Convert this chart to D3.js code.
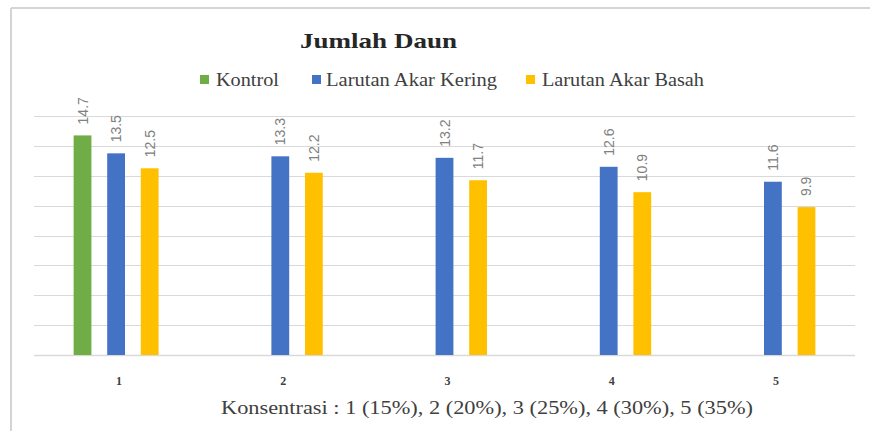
<!DOCTYPE html>
<html>
<head>
<meta charset="utf-8">
<script src="https://cdn.jsdelivr.net/npm/d3@7"></script>
<style>
  body { margin: 0; background: #fff; }
  svg { display: block; }
</style>
</head>
<body>
<div id="chart"></div>
<script>
const categories = ["1", "2", "3", "4", "5"];
const seriesNames = ["Kontrol", "Larutan Akar Kering", "Larutan Akar Basah"];
const kontrol = [14.7, null, null, null, null];
const akarKering = [13.5, 13.3, 13.2, 12.6, 11.6];
const akarBasah = [12.5, 12.2, 11.7, 10.9, 9.9];
const yTicks = [0, 2, 4, 6, 8, 10, 12, 14, 16];

const colors = ["#70ad47", "#4472c4", "#ffc000"];
const seriesValues = [kontrol, akarKering, akarBasah];

const serif = "'Liberation Serif', 'Times New Roman', serif";

const width = 870, height = 431;
const margin = { left: 34, right: 15, top: 116, bottom: 76 };

const svg = d3.select("#chart")
  .append("svg")
  .attr("width", width)
  .attr("height", height);

// chart frame (only top and left edges visible)
svg.append("line")
  .attr("x1", 11).attr("x2", width).attr("y1", 8).attr("y2", 8)
  .attr("stroke", "#d4d4d4").attr("stroke-width", 2);
svg.append("line")
  .attr("x1", 11).attr("x2", 11).attr("y1", 8).attr("y2", height)
  .attr("stroke", "#d4d4d4").attr("stroke-width", 2);

const x0 = d3.scaleBand()
  .domain(categories)
  .range([margin.left, width - margin.right]);

const x1 = d3.scaleBand()
  .domain(seriesNames)
  .range([0, x0.bandwidth()])
  .paddingInner(0.47)
  .paddingOuter(1.18);

const y = d3.scaleLinear()
  .domain([0, 16])
  .range([height - margin.bottom, margin.top]);

// gridlines
svg.append("g")
  .selectAll("line")
  .data(yTicks)
  .enter()
  .append("line")
  .attr("x1", margin.left)
  .attr("x2", width - margin.right)
  .attr("y1", d => Math.round(y(d)) + 0.5)
  .attr("y2", d => Math.round(y(d)) + 0.5)
  .attr("stroke", "#d9d9d9")
  .attr("stroke-width", d => d === 0 ? 1.5 : 1);

// bars
const groups = svg.append("g")
  .selectAll("g")
  .data(categories)
  .enter()
  .append("g")
  .attr("transform", d => `translate(${x0(d)},0)`);

const barData = (cat, ci) => seriesNames.map((s, si) => ({
  series: s, si: si, value: seriesValues[si][ci]
})).filter(d => d.value != null);

groups.each(function(cat, ci) {
  const g = d3.select(this);
  const items = barData(cat, ci);

  g.selectAll("rect")
    .data(items)
    .enter()
    .append("rect")
    .attr("x", d => x1(d.series))
    .attr("y", d => y(d.value))
    .attr("width", x1.bandwidth())
    .attr("height", d => y(0) - y(d.value))
    .attr("fill", d => colors[d.si]);

  // value labels, rotated
  g.selectAll("text")
    .data(items)
    .enter()
    .append("text")
    .attr("transform", d =>
      `translate(${x1(d.series) + x1.bandwidth() / 2 + 5},${y(d.value) - 11}) rotate(-90)`)
    .attr("font-family", "'Liberation Sans', Arial, sans-serif")
    .attr("font-size", 14)
    .attr("fill", "#808080")
    .text(d => d.value.toFixed(1));
});

// x tick labels
svg.append("g")
  .selectAll("text")
  .data(categories)
  .enter()
  .append("text")
  .attr("x", d => x0(d) + x0.bandwidth() / 2 + 3)
  .attr("y", 385)
  .attr("text-anchor", "middle")
  .attr("font-family", serif)
  .attr("font-weight", "bold")
  .attr("font-size", 12)
  .attr("fill", "#404040")
  .text(d => d);

// title
svg.append("text")
  .attr("x", 300)
  .attr("y", 48)
  .attr("textLength", 157)
  .attr("lengthAdjust", "spacingAndGlyphs")
  .attr("font-family", serif)
  .attr("font-weight", "bold")
  .attr("font-size", 21)
  .attr("fill", "#262626")
  .text("Jumlah Daun");

// legend
const legendItems = [
  { name: seriesNames[0], sx: 200, tx: 216, len: 63 },
  { name: seriesNames[1], sx: 312, tx: 326, len: 171 },
  { name: seriesNames[2], sx: 526, tx: 542, len: 162 }
];
const legend = svg.append("g");
legendItems.forEach((d, i) => {
  legend.append("rect")
    .attr("x", d.sx)
    .attr("y", 75)
    .attr("width", 9)
    .attr("height", 9)
    .attr("fill", colors[i]);
  legend.append("text")
    .attr("x", d.tx)
    .attr("y", 86)
    .attr("textLength", d.len)
    .attr("lengthAdjust", "spacingAndGlyphs")
    .attr("font-family", serif)
    .attr("font-size", 18)
    .attr("fill", "#404040")
    .text(d.name);
});

// x axis title
svg.append("text")
  .attr("x", 221)
  .attr("y", 414)
  .attr("textLength", 532)
  .attr("lengthAdjust", "spacingAndGlyphs")
  .attr("font-family", serif)
  .attr("font-size", 18)
  .attr("fill", "#404040")
  .text("Konsentrasi : 1 (15%), 2 (20%), 3 (25%), 4 (30%), 5 (35%)");
</script>
</body>
</html>
